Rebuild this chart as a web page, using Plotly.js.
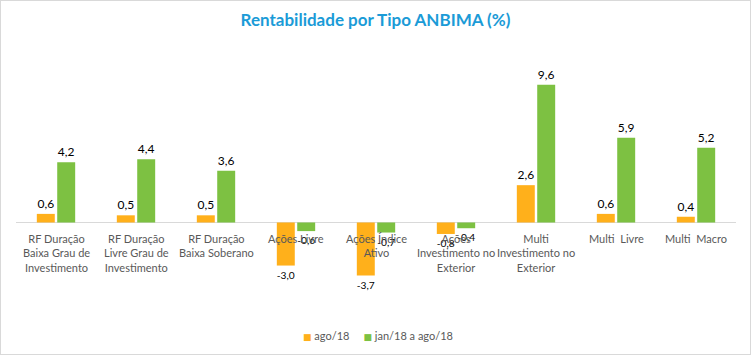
<!DOCTYPE html>
<html><head><meta charset="utf-8">
<script src="https://cdn.plot.ly/plotly-3.0.1.min.js"></script>
<style>
html,body{margin:0;padding:0;background:#fff;}
#chart{width:749px;height:353px;border:1px solid #d9d9d9;}
</style></head>
<body><div id="chart"></div>
<script>
const categories = ["RF Duração Baixa Grau de Investimento","RF Duração Livre Grau de Investimento","RF Duração Baixa Soberano","Ações Livre","Ações Índice Ativo","Ações Investimento no Exterior","Multi Investimento no Exterior","Multi Livre","Multi Macro"];
const tickLabels = ["RF Duração<br>Baixa Grau de<br>Investimento","RF Duração<br>Livre Grau de<br>Investimento","RF Duração<br>Baixa Soberano","Ações Livre","Ações Índice<br>Ativo","Ações<br>Investimento no<br>Exterior","Multi<br>Investimento no<br>Exterior","Multi  Livre","Multi  Macro"];
const seriesNames = ["ago/18","jan/18 a ago/18"];
const agoValues = [0.6,0.5,0.5,-3.0,-3.7,-0.8,2.6,0.6,0.4];
const anoValues = [4.2,4.4,3.6,-0.6,-0.7,-0.4,9.6,5.9,5.2];
const colors = ['#FFB01B','#7DC142'];

const FONT = "Lato, 'Open Sans', sans-serif";
const mk = (name, y, color) => ({
  type:'bar', name:name, x:categories, y:y, showlegend:false,
  marker:{color:color},
  texttemplate:'%{y:.1f}', textposition:'outside', cliponaxis:false,
  textfont:{family:FONT,size:12,color:'#000'},
  hoverinfo:'skip'
});
const data = [mk(seriesNames[0], agoValues, colors[0]), mk(seriesNames[1], anoValues, colors[1])];

const annotations = categories.map((c,i)=>({
  x:c, y:0, xref:'x', yref:'y', text:tickLabels[i], showarrow:false,
  yanchor:'top', yshift:-8, font:{family:FONT,size:11,color:'#595959'}, align:'center'
}));

// legend drawn as text
const sq = c => "<span style='color:"+c+";font-family:DejaVu Sans;font-size:9px'>\u25A0</span>";
const legendText = sq(colors[0]) + "\u00a0" + seriesNames[0] + "\u00a0\u00a0\u00a0\u00a0\u00a0" + sq(colors[1]) + "\u00a0" + seriesNames[1];
annotations.push({
  xref:'paper', yref:'paper', x:0.503, y:-0.146, xanchor:'center', yanchor:'middle',
  text:legendText, showarrow:false, font:{family:FONT,size:11,color:'#595959'}
});

const layout = {
  width:749, height:353,
  margin:{l:15,r:14,t:59,b:54},
  paper_bgcolor:'#fff', plot_bgcolor:'#fff',
  separators:',.',
  title:{text:'<b>Rentabilidade por Tipo ANBIMA (%)</b>', x:0.5, xanchor:'center', y:0.945, yanchor:'middle',
         font:{family:FONT,size:17,color:'#1B9BD7'}},
  barmode:'group', bargap:0.49, bargroupgap:0.12,
  xaxis:{type:'category', showticklabels:false, showgrid:false, zeroline:false, showline:false, ticks:''},
  yaxis:{range:[-5.40,11.32], showticklabels:false, showgrid:false, zeroline:true, zerolinecolor:'#d9d9d9', zerolinewidth:1, ticks:''},
  showlegend:false,
  annotations:annotations
};
Plotly.newPlot('chart', data, layout, {displayModeBar:false, staticPlot:true});
</script></body></html>
